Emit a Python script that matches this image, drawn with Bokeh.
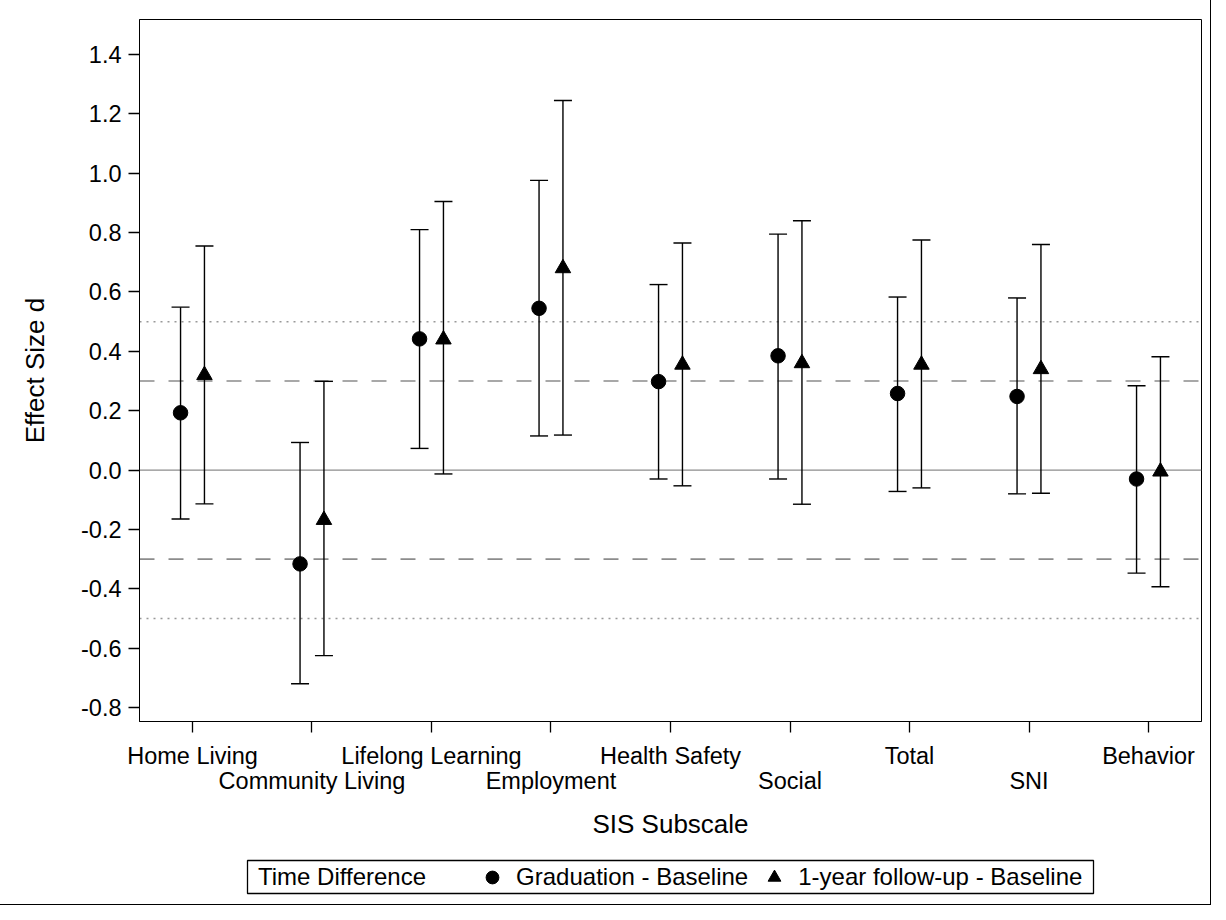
import numpy as np
from bokeh.plotting import figure
from bokeh.layouts import column
from bokeh.models import (Range1d, FixedTicker, Span, Whisker, TeeHead, ColumnDataSource,
                          Legend, LegendItem, PrintfTickFormatter, BoxAnnotation)
from bokeh.transform import dodge
from bokeh.embed import file_html
from bokeh.resources import INLINE

# ---------------- data ----------------
categories = ["Home Living", "Community Living", "Lifelong Learning", "Employment",
              "Health Safety", "Social", "Total", "SNI", "Behavior"]
grad_est = [0.193, -0.316, 0.442, 0.545, 0.298, 0.385, 0.258, 0.248, -0.030]
grad_lo = [-0.165, -0.720, 0.073, 0.115, -0.030, -0.030, -0.072, -0.080, -0.347]
grad_hi = [0.549, 0.093, 0.810, 0.976, 0.625, 0.795, 0.583, 0.580, 0.284]
fu_est = [0.320, -0.168, 0.440, 0.680, 0.355, 0.360, 0.355, 0.340, -0.005]
fu_lo = [-0.114, -0.625, -0.013, 0.118, -0.053, -0.115, -0.060, -0.078, -0.393]
fu_hi = [0.755, 0.299, 0.905, 1.245, 0.765, 0.840, 0.775, 0.760, 0.382]
y_ticks = [-0.8, -0.6, -0.4, -0.2, 0.0, 0.2, 0.4, 0.6, 0.8, 1.0, 1.2, 1.4]
ref_solid = [0.0]
ref_dash = [-0.3, 0.3]
ref_dot = [-0.5, 0.5]
legend_title = "Time Difference"
series_names = ["Graduation - Baseline", "1-year follow-up - Baseline"]

FONT = "Liberation Sans"
GRAY = "#8c8c8c"

xpos = list(range(len(categories)))
src_g = ColumnDataSource(dict(x=xpos, est=grad_est, lo=grad_lo, hi=grad_hi))
src_f = ColumnDataSource(dict(x=xpos, est=fu_est, lo=fu_lo, hi=fu_hi))

# ---------------- main chart ----------------
p = figure(width=1210, height=850, title=None,
           x_range=Range1d(-0.4435, 8.4435), y_range=Range1d(-0.847, 1.518),
           output_backend="svg", toolbar_location=None,
           min_border_left=139, min_border_right=9, min_border_top=19, min_border_bottom=129)
p.xgrid.visible = False
p.ygrid.visible = False
p.outline_line_color = "black"
p.outline_line_width = 1
p.outline_line_alpha = 1
p.background_fill_color = "white"
p.border_fill_color = "white"

for v in ref_solid:
    p.add_layout(Span(location=v, dimension="width", line_color=GRAY, line_width=1.3, level="underlay"))
for v in ref_dash:
    p.add_layout(Span(location=v, dimension="width", line_color=GRAY, line_width=1.6,
                      line_dash="15 14", level="underlay"))
for v in ref_dot:
    p.add_layout(Span(location=v, dimension="width", line_color="#999999", line_width=1.5,
                      line_dash="2 5", level="underlay"))

for src, off in ((src_g, -0.1), (src_f, 0.1)):
    p.add_layout(Whisker(source=src, base=dodge("x", off), upper="hi", lower="lo",
                         dimension="height", line_color="black", line_width=1.4, level="annotation",
                         upper_head=TeeHead(size=18, line_color="black", line_width=1.4),
                         lower_head=TeeHead(size=18, line_color="black", line_width=1.4)))

p.scatter(x=dodge("x", -0.1), y="est", source=src_g, marker="circle", size=14.5,
          fill_color="black", line_color="black")
p.scatter(x=dodge("x", 0.1), y="est", source=src_f, marker="triangle", size=15.5,
          fill_color="black", line_color="black")

xa = p.xaxis[0]
xa.ticker = FixedTicker(ticks=xpos)
xa.major_label_overrides = {i: (lab if i % 2 == 0 else "\n" + lab) for i, lab in enumerate(categories)}
xa.axis_label = "SIS Subscale"
ya = p.yaxis[0]
ya.ticker = FixedTicker(ticks=y_ticks)
ya.formatter = PrintfTickFormatter(format="%.1f")
ya.axis_label = "Effect Size d"
for ax in (xa, ya):
    ax.axis_line_color = "black"
    ax.axis_line_width = 1
    ax.major_tick_line_color = "black"
    ax.major_tick_line_width = 1.3
    ax.major_tick_out = 11
    ax.major_tick_in = 0
    ax.minor_tick_line_color = None
    ax.major_label_text_font = FONT
    ax.major_label_text_font_size = "23.5px"
    ax.major_label_text_color = "black"
    ax.axis_label_text_font = FONT
    ax.axis_label_text_font_size = "26px"
    ax.axis_label_text_font_style = "normal"
    ax.axis_label_text_color = "black"
xa.major_label_text_line_height = 0.97
xa.major_label_standoff = 10
xa.axis_label_standoff = 12
ya.major_label_standoff = 7
ya.axis_label_standoff = 28

# ---------------- legend strip (frame aligned with the chart above) ----------------
q = figure(width=1210, height=54, title=None, x_range=Range1d(0, 1062), y_range=Range1d(0, 37),
           output_backend="svg", toolbar_location=None,
           x_axis_location=None, y_axis_location=None,
           min_border_left=139, min_border_right=9, min_border_top=8, min_border_bottom=9)
q.xgrid.visible = False
q.ygrid.visible = False
q.outline_line_color = None
q.background_fill_color = "white"
q.border_fill_color = "white"

# legend frame
q.add_layout(BoxAnnotation(left=108, right=954, bottom=2, top=35, fill_color=None, fill_alpha=0,
                           line_color="black", line_width=1.3, line_alpha=1, level="underlay"))

l_t = q.scatter(x=[np.nan], y=[np.nan], size=1, fill_alpha=0, line_alpha=0)
l_g = q.scatter(x=[np.nan], y=[np.nan], marker="circle", size=14.5, fill_color="black", line_color="black")
l_f = q.scatter(x=[np.nan], y=[np.nan], marker="triangle", size=15.5, fill_color="black", line_color="black")

legend = Legend(items=[LegendItem(label=legend_title + "\u00a0" * 6, renderers=[l_t]),
                       LegendItem(label=series_names[0], renderers=[l_g]),
                       LegendItem(label=series_names[1], renderers=[l_f])],
                orientation="horizontal", location=(79, 2),
                label_text_font=FONT, label_text_font_size="24px", label_text_color="black",
                glyph_width=32, glyph_height=32, label_standoff=8, spacing=10, padding=0,
                margin=0, border_line_color=None, background_fill_alpha=0)
q.add_layout(legend, "center")

layout = column(p, q, spacing=0)
layout.styles = {"outline": "1px solid black", "outline-offset": "0px"}

open("out.html", "w").write(file_html(layout, INLINE))
